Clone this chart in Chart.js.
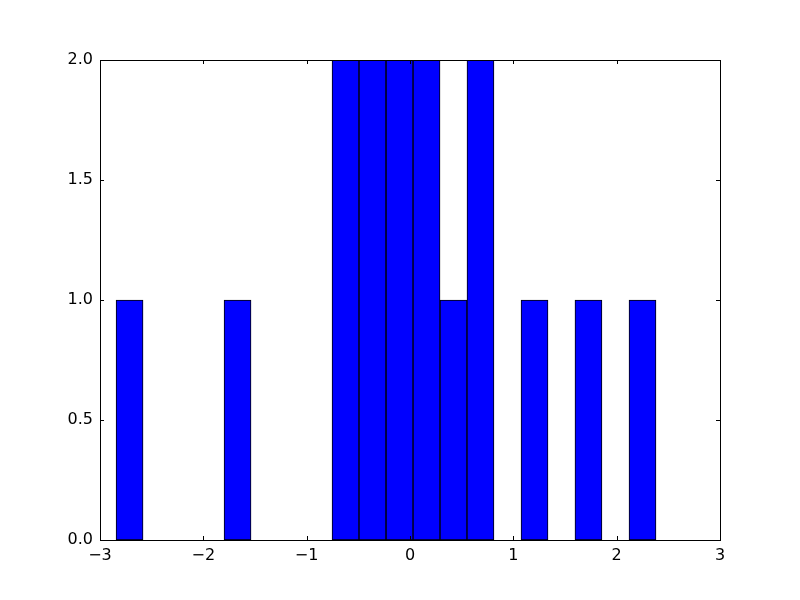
<!DOCTYPE html>
<html>
<head>
<meta charset="utf-8">
<script src="https://cdn.jsdelivr.net/npm/chart.js@4/dist/chart.umd.min.js"></script>
<style>
  html, body { margin: 0; padding: 0; background: #fff; }
  #wrap { width: 800px; height: 600px; }
</style>
</head>
<body>
<div id="wrap"><canvas id="hist" width="800" height="600"></canvas></div>
<script>
// bin centres (20 bins)
var binCenters = [-2.714, -2.453, -2.192, -1.930, -1.669, -1.408, -1.146, -0.885, -0.624, -0.363,
                  -0.101, 0.160, 0.421, 0.682, 0.944, 1.205, 1.466, 1.727, 1.989, 2.250];
var counts = [1, 0, 0, 0, 1, 0, 0, 0, 2, 2, 2, 2, 1, 2, 0, 1, 0, 1, 0, 1];
var xTicks = [-3, -2, -1, 0, 1, 2, 3];
var yTicks = [0, 0.5, 1, 1.5, 2];

var points = binCenters.map(function (c, i) { return { x: c, y: counts[i] }; });

// matplotlib classic style: box frame with inward ticks on all sides
var frameTicks = {
    id: 'frameTicks',
    afterDraw: function (chart) {
        var ctx = chart.ctx, a = chart.chartArea;
        var xs = chart.scales.x, ys = chart.scales.y;
        ctx.save();
        ctx.strokeStyle = '#000';
        ctx.lineWidth = 1;
        ctx.strokeRect(Math.round(a.left) + 0.5, Math.round(a.top) + 0.5,
                       Math.round(a.right - a.left), Math.round(a.bottom - a.top));
        ctx.beginPath();
        xTicks.forEach(function (t) {
            var px = Math.round(xs.getPixelForValue(t)) + 0.5;
            ctx.moveTo(px, a.bottom); ctx.lineTo(px, a.bottom - 4);
            ctx.moveTo(px, a.top); ctx.lineTo(px, a.top + 4);
        });
        yTicks.forEach(function (t) {
            var py = Math.round(ys.getPixelForValue(t)) + 0.5;
            ctx.moveTo(a.left, py); ctx.lineTo(a.left + 4, py);
            ctx.moveTo(a.right, py); ctx.lineTo(a.right - 4, py);
        });
        ctx.stroke();
        ctx.restore();
    }
};

new Chart(document.getElementById('hist'), {
    type: 'bar',
    data: {
        datasets: [{
            data: points,
            backgroundColor: '#0000ff',
            borderColor: '#000000',
            borderWidth: 1,
            borderSkipped: false,
            barPercentage: 1.0,
            categoryPercentage: 1.0
        }]
    },
    options: {
        responsive: false,
        animation: false,
        layout: { padding: { top: 60, right: 80, left: 0, bottom: 0 } },
        plugins: { legend: { display: false }, tooltip: { enabled: false } },
        scales: {
            x: {
                type: 'linear',
                min: -3, max: 3,
                offset: false,
                grid: { display: false, drawTicks: false },
                border: { display: false },
                afterBuildTicks: function (s) { s.ticks = xTicks.map(function (v) { return { value: v }; }); },
                afterFit: function (s) { s.height = 60; },
                ticks: {
                    padding: 6,
                    color: '#000',
                    font: { family: 'DejaVu Sans', size: 16 },
                    maxRotation: 0,
                    callback: function (v) { return String(v).replace('-', '\u2212'); }
                }
            },
            y: {
                min: 0, max: 2,
                grid: { display: false, drawTicks: false },
                border: { display: false },
                afterBuildTicks: function (s) { s.ticks = yTicks.map(function (v) { return { value: v }; }); },
                afterFit: function (s) { s.width = 100; },
                ticks: {
                    padding: 7,
                    color: '#000',
                    font: { family: 'DejaVu Sans', size: 16 },
                    callback: function (v) { return v.toFixed(1); }
                }
            }
        }
    },
    plugins: [frameTicks]
});
</script>
</body>
</html>
